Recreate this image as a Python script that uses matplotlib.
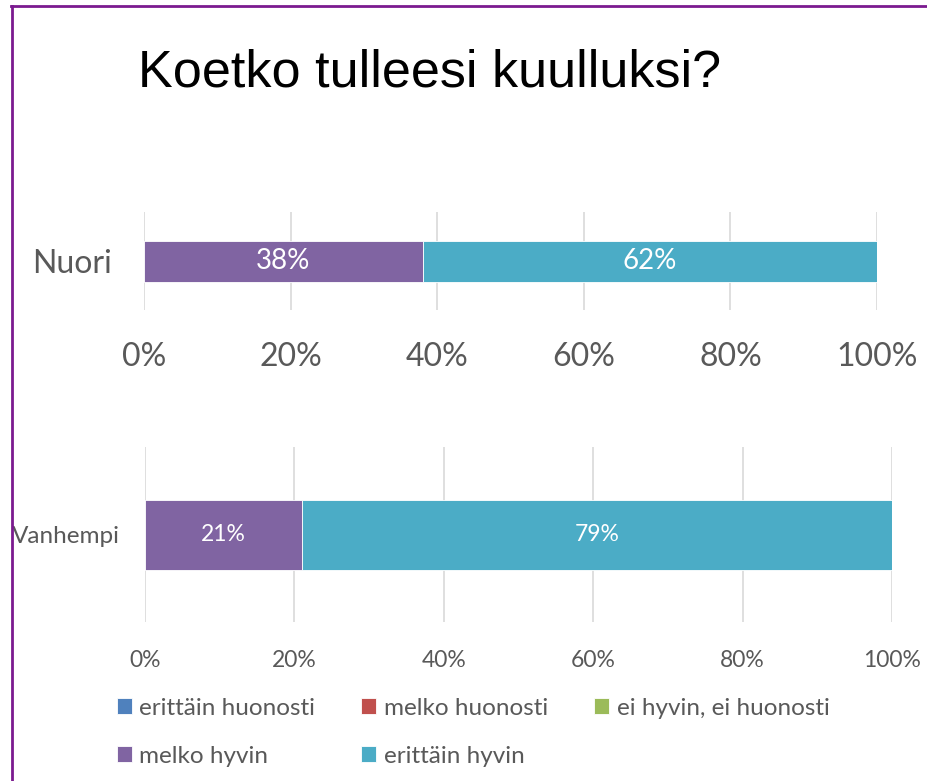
import matplotlib
matplotlib.use("Agg")
import matplotlib.pyplot as plt
from matplotlib.lines import Line2D
from matplotlib.font_manager import fontManager

names = {f.name for f in fontManager.ttflist}
title_font = "Liberation Sans Narrow" if "Liberation Sans Narrow" in names else "Liberation Sans"
plt.rcParams["font.family"] = ["Lato", "DejaVu Sans"]

# data
categories = ["erittäin huonosti", "melko huonosti", "ei hyvin, ei huonosti",
              "melko hyvin", "erittäin hyvin"]
colors = ["#4F81BD", "#C0504D", "#9BBB59", "#8064A2", "#4BACC6"]
nuori = [0, 0, 0, 38, 62]
vanhempi = [0, 0, 0, 21, 79]
xticks = [0, 20, 40, 60, 80, 100]
xticklabels = ["0%", "20%", "40%", "60%", "80%", "100%"]

W, H = 928, 781
fig = plt.figure(figsize=(W / 100, H / 100), dpi=100)

txt = "#595959"

def stacked(ax, label, values, barh, tsize, lsize, bsize, pad_x, pad_y):
    left = 0
    handles = []
    for cat, v, c in zip(categories, values, colors):
        b = ax.barh([0], [v], left=left, height=barh, color=c,
                    edgecolor="white", linewidth=0.6, label=cat, zorder=3)
        handles.append(b)
        if v > 0:
            ax.text(left + v / 2, 0, "%d%%" % v, ha="center", va="center",
                    color="white", fontsize=bsize, zorder=4)
        left += v
    ax.set_xlim(0, 100)
    ax.set_ylim(-0.5, 0.5)
    ax.set_xticks(xticks)
    ax.set_xticklabels(xticklabels)
    ax.set_yticks([0])
    ax.set_yticklabels([label])
    ax.tick_params(axis="x", length=0, labelsize=tsize, colors=txt, pad=pad_x)
    ax.tick_params(axis="y", length=0, labelsize=lsize, colors=txt, pad=pad_y)
    ax.grid(axis="x", color="#D9D9D9", linewidth=1.2, zorder=0)
    for s in ax.spines.values():
        s.set_visible(False)
    return handles

ax1 = fig.add_axes([144 / W, 1 - 310 / H, 733 / W, 98 / H])
stacked(ax1, "Nuori", nuori, 41 / 98, 23, 23, 20, 23, 23)

ax2 = fig.add_axes([145 / W, 1 - 622 / H, 747 / W, 175 / H])
hs = stacked(ax2, "Vanhempi", vanhempi, 70 / 175, 16.5, 17.5, 16.5, 20, 18)

fig.text(138 / W, 1 - 73 / H, "Koetko tulleesi kuulluksi?", fontsize=37.5,
         family=title_font, va="center", ha="left", color="black")

order = [0, 3, 1, 4, 2]
fig.legend([hs[i] for i in order], [categories[i] for i in order], ncol=3,
           loc="upper left", bbox_to_anchor=(95 / W, 1 - 676 / H),
           frameon=False, fontsize=17.5, labelcolor=txt, handlelength=0.62,
           handleheight=0.62, handletextpad=0.3, columnspacing=1.9,
           labelspacing=1.1)

# purple frame
fig.add_artist(Line2D([11 / W, 1], [1 - 6 / H, 1 - 6 / H], color="#7B1A8F",
                      linewidth=2, transform=fig.transFigure))
fig.add_artist(Line2D([12 / W, 12 / W], [0, 1 - 6 / H], color="#7B1A8F",
                      linewidth=2, transform=fig.transFigure))

fig.savefig("out.png", dpi=100)
